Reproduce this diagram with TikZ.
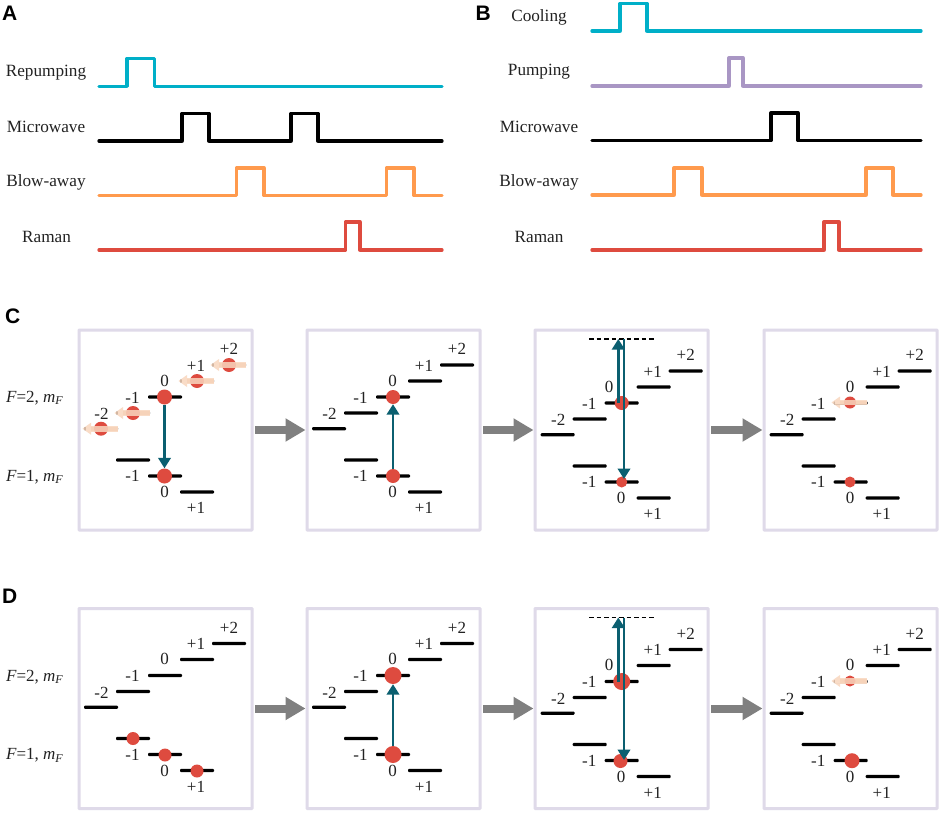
\documentclass[tikz,border=0pt]{standalone}
\usepackage{fontspec}
\setmainfont{Liberation Serif}
\newfontfamily\panelfont{Liberation Sans}
\usetikzlibrary{arrows.meta}
\definecolor{cCyan}{HTML}{00AFC8}
\definecolor{cLilac}{HTML}{A996C4}
\definecolor{cOrange}{HTML}{FF9A4D}
\definecolor{cRed}{HTML}{DE4B3F}
\definecolor{cBox}{HTML}{DFDAE9}
\definecolor{cTeal}{HTML}{0B5F70}
\definecolor{cGrey}{HTML}{808080}
\definecolor{cBand}{HTML}{F8D6BE}
\definecolor{cText}{HTML}{222222}
\tikzset{
  x=1pt,y=-1pt,
  wave/.style={line width=3.3pt,line join=round,line cap=round},
  seqlabel/.style={font=\fontsize{17.2}{17.2}\selectfont,text=cText,inner sep=0pt},
  panel/.style={font=\panelfont\bfseries\fontsize{21}{21}\selectfont,inner sep=0pt,text=black},
  framebox/.style={draw=cBox,line width=3pt,minimum width=173pt,minimum height=200pt,inner sep=0pt,rounded corners=0.5pt},
  levelbar/.style={fill=black,minimum width=34pt,minimum height=3.1pt,inner sep=0pt,rounded corners=1pt},
  lvllabel/.style={font=\fontsize{17}{17}\selectfont,text=cText,inner sep=0pt},
  flabel/.style={font=\fontsize{17}{17}\selectfont,text=cText,inner sep=0pt},
  atom/.style={circle,fill=cRed,inner sep=0pt,minimum size=#1},
  transition/.style={draw=cTeal,line width=2.4pt,-{Triangle[length=10.5pt,width=12.5pt]}},
  flow/.style={draw=cGrey,line width=8pt,-{Triangle[length=20pt,width=22pt]}},
  virtual/.style={line width=1.2pt,dash pattern=on 4.5pt off 3pt},
}
\newcommand{\sublabel}{\raisebox{-2.5pt}{\fontsize{12}{12}\selectfont\textit{F}}}
% #1 prefix, #2 x offset, #3 y offset
\newcommand{\levelset}[3]{%
  \node[levelbar] (#1m2) at (#2+101,#3+428.7) {};
  \node[levelbar] (#1m1) at (#2+133,#3+413) {};
  \node[levelbar] (#1z)  at (#2+165,#3+397) {};
  \node[levelbar] (#1p1) at (#2+197,#3+381) {};
  \node[levelbar] (#1p2) at (#2+229,#3+365) {};
  \node[levelbar] (#1lm) at (#2+133,#3+460) {};
  \node[levelbar] (#1lz) at (#2+165,#3+476) {};
  \node[levelbar] (#1lp) at (#2+197,#3+492) {};
  \node[lvllabel] (#1tm2) at (#2+101.5,#3+414) {-2};
  \node[lvllabel] (#1tm1) at (#2+132.5,#3+397.5) {-1};
  \node[lvllabel] (#1tp1) at (#2+196,#3+365.5) {+1};
  \node[lvllabel] (#1tp2) at (#2+229,#3+349) {+2};
  \node[lvllabel] (#1ulm) at (#2+132.5,#3+476) {-1};
  \node[lvllabel] (#1ulz) at (#2+164.5,#3+492) {0};
  \node[lvllabel] (#1ulp) at (#2+196,#3+508) {+1};
}
% #1 name, #2 centre x, #3 centre y, #4 atom size
\newcommand{\blownatom}[4]{%
  \fill[white] (#2-15.5,#3-1.8) rectangle (#2+15.5,#3+1.8);
  \fill[cBand!80!brown] (#2-10,#3-1.8) rectangle (#2+16.5,#3+1.8);
  \node[atom=#4] (#1) at (#2,#3) {};
  \fill[cBand,opacity=.85] (#2-10,#3-2.8) rectangle (#2+17,#3+2.8);
  \fill[cBand,opacity=.85] (#2-10,#3-6) -- (#2-18.5,#3) -- (#2-10,#3+6) -- cycle;
}
\begin{document}
\begin{tikzpicture}
\useasboundingbox (0,0) rectangle (941,813);
\fill[white] (0,0) rectangle (941,813);
% panel labels
\node[panel,anchor=west] (A) at (2,13) {A};
\node[panel,anchor=west] (B) at (475.5,13) {B};
\node[panel,anchor=west] (C) at (5,316) {C};
\node[panel,anchor=west] (D) at (2,596) {D};
% sequence A
\node[seqlabel] (aRep) at (46,73) {Repumping};
\node[seqlabel] (aMic) at (46,127) {Microwave};
\node[seqlabel] (aBlo) at (46,182) {Blow-away};
\node[seqlabel] (aRam) at (46.5,236.5) {Raman};
\draw[wave,cCyan] (99,86.3) -| (127,58.5) -| (154.5,86.3) -- (442,86.3);
\draw[wave,black] (99,141) -| (182,113.5) -| (209,141) -| (291,113.5) -| (318,141) -- (442,141);
\draw[wave,cOrange] (99,195.5) -| (236.5,168) -| (264,195.5) -| (386.5,168) -| (414,195.5) -- (442,195.5);
\draw[wave,cRed] (99,250) -| (345.5,222) -| (360,250) -- (442,250);
% sequence B
\node[seqlabel] (bCoo) at (539,17) {Cooling};
\node[seqlabel] (bPum) at (539,72) {Pumping};
\node[seqlabel] (bMic) at (539,127) {Microwave};
\node[seqlabel] (bBlo) at (539,182) {Blow-away};
\node[seqlabel] (bRam) at (539,236.5) {Raman};
\draw[wave,cCyan] (592,31) -| (620,3.5) -| (647,31) -- (921,31);
\draw[wave,cLilac] (592,86) -| (729,58) -| (743,86) -- (921,86);
\draw[wave,black] (592,140.5) -| (771,113) -| (798,140.5) -- (921,140.5);
\draw[wave,cOrange] (592,195) -| (674,168) -| (702,195) -| (866,168) -| (893,195) -- (921,195);
\draw[wave,cRed] (592,250) -| (824,222) -| (839,250) -- (921,250);
% frames
\foreach \r/\yy in {c/430,d/708.5}{
  \node[framebox] (\r1) at (165.5,\yy) {};
  \node[framebox] (\r2) at (393.5,\yy) {};
  \node[framebox] (\r3) at (621.5,\yy) {};
  \node[framebox] (\r4) at (850.5,\yy) {};
  \draw[flow] (\r1.east) ++(1.5,0) coordinate (\r a) -- (\r2.west);
  \draw[flow] (\r2.east) ++(1.5,0) coordinate (\r b) -- (\r3.west);
  \draw[flow] (\r3.east) ++(1.5,0) coordinate (\r e) -- (\r4.west);
}
% F labels
\node[flabel] (cF2) at (34.5,398) {\textit{F}=2, \textit{m}\sublabel};
\node[flabel] (cF1) at (34.5,477) {\textit{F}=1, \textit{m}\sublabel};
\node[flabel] (dF2) at (34.5,677) {\textit{F}=2, \textit{m}\sublabel};
\node[flabel] (dF1) at (34.5,755.5) {\textit{F}=1, \textit{m}\sublabel};
% --- row C ---
\levelset{ca}{0}{0}
\node[lvllabel] (cat0) at (164.5,380.5) {0};
\blownatom{caA}{101}{428.7}{14}
\blownatom{caB}{133}{413}{14}
\blownatom{caC}{197}{381}{14}
\blownatom{caD}{229}{365}{14}
\node[atom=15] (caU) at (164.5,397) {};
\node[atom=15] (caL) at (164.5,476) {};
\draw[transition] (caU) -- (caL.north);
\levelset{cb}{228}{0}
\node[lvllabel] (cbt0) at (392.5,380.5) {0};
\node[atom=14] (cbU) at (393,397) {};
\node[atom=14] (cbL) at (393,476) {};
\draw[transition] (cbL) -- (cbU.south);
\levelset{cc}{456.7}{6}
\node[lvllabel] (cct0) at (609,386.5) {0};
\node[atom=14] (ccU) at (621.7,403) {};
\node[atom=11] (ccL) at (621.7,482) {};
\draw[virtual] (589,339) -- coordinate (ccV) (654,339);
\coordinate (ccVu) at (618.3,339);
\coordinate (ccVd) at (624,339);
\coordinate (ccUa) at (618.3,403);
\coordinate (ccLa) at (624,479);
\draw[transition] (ccUa) -- (ccVu);
\draw[transition] (ccVd) -- (ccLa);
\levelset{cd}{685.7}{6}
\node[lvllabel] (cdt0) at (850,386.5) {0};
\blownatom{cdU}{850}{402.5}{12}
\node[atom=11] (cdL) at (850,482) {};
% --- row D ---
\levelset{da}{0}{278.5}
\node[lvllabel] (dat0) at (164.5,659) {0};
\node[atom=13] (daA) at (133,738.5) {};
\node[atom=13] (daB) at (165,755) {};
\node[atom=13] (daC) at (197,771) {};
\levelset{db}{228}{278.5}
\node[lvllabel] (dbt0) at (392.5,659) {0};
\node[atom=17] (dbU) at (393,675.5) {};
\node[atom=17] (dbL) at (393,754.5) {};
\draw[transition] (dbL) -- (dbU.south);
\levelset{dc}{456.7}{284.5}
\node[lvllabel] (dct0) at (609,665) {0};
\node[atom=17] (dcU) at (621.7,681.5) {};
\node[atom=14] (dcL) at (620.5,761) {};
\draw[virtual] (589,617.5) -- coordinate (dcV) (654,617.5);
\coordinate (dcVu) at (618.3,617.5);
\coordinate (dcVd) at (624,617.5);
\coordinate (dcUa) at (618.3,681.5);
\coordinate (dcLa) at (624,760);
\draw[transition] (dcUa) -- (dcVu);
\draw[transition] (dcVd) -- (dcLa);
\levelset{dd}{685.7}{284.5}
\node[lvllabel] (ddt0) at (850,665) {0};
\blownatom{ddU}{850}{681}{11}
\node[atom=15] (ddL) at (852,760.7) {};
\end{tikzpicture}
\end{document}
